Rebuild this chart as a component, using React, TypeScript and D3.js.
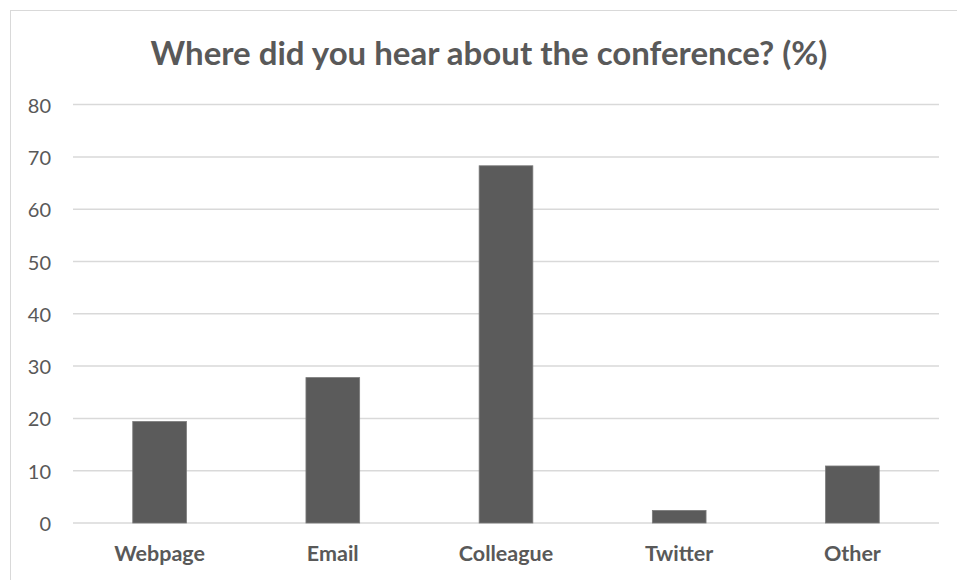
import React from 'react';
import * as d3 from 'd3';

const categories = ["Webpage", "Email", "Colleague", "Twitter", "Other"];
const values = [19.4, 27.8, 68.3, 2.4, 10.9];
const yTicks = [0, 10, 20, 30, 40, 50, 60, 70, 80];

const WIDTH = 957;
const HEIGHT = 580;
const PLOT = { left: 73, right: 939, top: 104.6, bottom: 523 };
const FONT = "Lato, 'Open Sans', sans-serif";

const App: React.FC = () => {
  const x = d3.scaleBand<string>()
    .domain(categories)
    .range([PLOT.left, PLOT.right])
    .paddingInner(0.69)
    .paddingOuter(0.345);

  const y = d3.scaleLinear().domain([0, 80]).range([PLOT.bottom, PLOT.top]);

  return (
    <svg
      width={WIDTH}
      height={HEIGHT}
      style={{ position: "absolute", left: 0, top: 0, background: "#fff" }}
    >
      {/* chart area border */}
      <rect x={10.5} y={10.5} width={WIDTH} height={HEIGHT} fill="none" stroke="#d9d9d9" />

      <text
        x={489}
        y={65}
        textAnchor="middle"
        fontFamily={FONT}
        fontWeight={700}
        fontSize={33}
        fill="#595959"
      >
        Where did you hear about the conference? (%)
      </text>

      {yTicks.map(t => (
        <g key={t}>
          <line
            x1={PLOT.left}
            x2={PLOT.right}
            y1={y(t)}
            y2={y(t)}
            stroke="#d9d9d9"
            strokeWidth={1.5}
          />
          <text
            x={51}
            y={y(t)}
            textAnchor="end"
            dominantBaseline="central"
            fontFamily={FONT}
            fontSize={20}
            fill="#595959"
          >
            {t}
          </text>
        </g>
      ))}

      {categories.map((c, i) => (
        <rect
          key={c}
          x={x(c)}
          y={y(values[i])}
          width={x.bandwidth()}
          height={y(0) - y(values[i])}
          fill="#5b5b5b"
          stroke="#7a7a7a"
          strokeWidth={0.8}
        />
      ))}

      {categories.map(c => (
        <text
          key={c}
          x={(x(c) ?? 0) + x.bandwidth() / 2}
          y={561}
          textAnchor="middle"
          fontFamily={FONT}
          fontWeight={700}
          fontSize={21.5}
          fill="#595959"
        >
          {c}
        </text>
      ))}
    </svg>
  );
};

export default App;
